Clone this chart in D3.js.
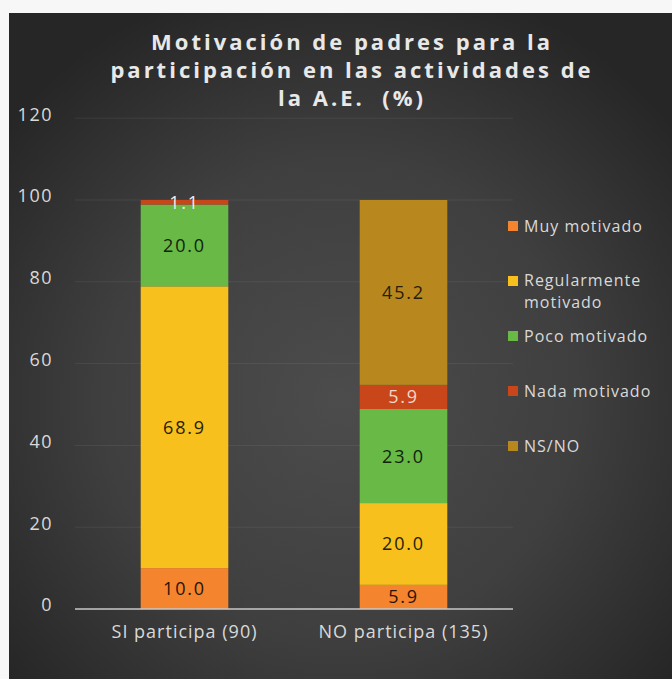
<!DOCTYPE html>
<html>
<head>
<meta charset="utf-8">
<script src="https://cdn.jsdelivr.net/npm/d3@7"></script>
<style>
  body { margin: 0; background: #f7f7f7; }
  svg { display: block; }
</style>
</head>
<body>
<script>
// data (percent)
var categories = ["SI participa (90)", "NO participa (135)"];
var seriesNames = ["Muy motivado", "Regularmente motivado", "Poco motivado", "Nada motivado", "NS/NO"];
var muyMotivado = [10.0, 5.9];
var regularmente = [68.9, 20.0];
var pocoMotivado = [20.0, 23.0];
var nadaMotivado = [1.1, 5.9];
var nsNo = [0, 45.2];
var yTicks = [0, 20, 40, 60, 80, 100, 120];
var titleLines = ["Motivación de padres para la", "participación en las actividades de", "la A.E.  (%)"];

var colors = ["#f5842e", "#f7c01c", "#68b946", "#c9461a", "#b8881f"];
var labelColors = ["#2a1408", "#2a2006", "#10240c", "#f3d7c8", "#2a1c06"];

var W = 672, H = 679;

var svg = d3.select("body").append("svg")
    .attr("width", W)
    .attr("height", H);

// panel background
var defs = svg.append("defs");
var grad = defs.append("radialGradient")
    .attr("id", "bg")
    .attr("cx", "50%").attr("cy", "58%").attr("r", "65%");
grad.append("stop").attr("offset", "0%").attr("stop-color", "#4c4c4c");
grad.append("stop").attr("offset", "55%").attr("stop-color", "#3f3f3f");
grad.append("stop").attr("offset", "100%").attr("stop-color", "#262626");

svg.append("rect")
    .attr("x", 9).attr("y", 13)
    .attr("width", W - 9).attr("height", H - 13)
    .attr("fill", "url(#bg)");

// rows for the stack
var rows = categories.map(function(c, i) {
    var r = {cat: c};
    r[seriesNames[0]] = muyMotivado[i];
    r[seriesNames[1]] = regularmente[i];
    r[seriesNames[2]] = pocoMotivado[i];
    r[seriesNames[3]] = nadaMotivado[i];
    r[seriesNames[4]] = nsNo[i];
    return r;
});

var stacked = d3.stack().keys(seriesNames)(rows);

var x = d3.scaleBand()
    .domain(categories)
    .range([75, 513])
    .paddingInner(0.6)
    .paddingOuter(0.3);

var y = d3.scaleLinear()
    .domain([0, 120])
    .range([609, 118.2]);

// gridlines (very faint)
svg.append("g")
    .selectAll("line")
    .data(yTicks.filter(function(d) { return d > 0; }))
    .enter().append("line")
    .attr("x1", 75).attr("x2", 513)
    .attr("y1", function(d) { return y(d); })
    .attr("y2", function(d) { return y(d); })
    .attr("stroke", "#ffffff")
    .attr("stroke-opacity", 0.07)
    .attr("stroke-width", 1);

// y axis labels
var yAxis = svg.append("g")
    .attr("transform", "translate(75,0)")
    .call(d3.axisLeft(y).tickValues(yTicks).tickSize(0).tickPadding(22));
yAxis.select(".domain").remove();
yAxis.selectAll("text")
    .attr("dy", "0.1em")
    .attr("fill", "#d9d9d9")
    .style("font-family", "'Open Sans', sans-serif")
    .style("font-size", "18px")
    .style("letter-spacing", "1.5px");

// bars
var layer = svg.append("g").selectAll("g")
    .data(stacked)
    .enter().append("g")
    .attr("fill", function(d, i) { return colors[i]; });

layer.selectAll("rect")
    .data(function(d) { return d; })
    .enter().append("rect")
    .attr("x", function(d) { return x(d.data.cat); })
    .attr("y", function(d) { return y(d[1]); })
    .attr("width", x.bandwidth())
    .attr("height", function(d) { return y(d[0]) - y(d[1]); });

// value labels
stacked.forEach(function(s, i) {
    svg.append("g").selectAll("text")
        .data(s.filter(function(d) { return d[1] - d[0] > 0; }))
        .enter().append("text")
        .attr("x", function(d) { return x(d.data.cat) + x.bandwidth() / 2; })
        .attr("y", function(d) { return (y(d[0]) + y(d[1])) / 2; })
        .attr("dy", "0.36em")
        .attr("text-anchor", "middle")
        .attr("fill", function(d) { return d[1] - d[0] < 3 ? "#eeeeee" : labelColors[i]; })
        .style("font-family", "'Open Sans', sans-serif")
        .style("font-size", "18px")
        .style("letter-spacing", "1.8px")
        .text(function(d) { return (d[1] - d[0]).toFixed(1); });
});

// x axis line
svg.append("line")
    .attr("x1", 75).attr("x2", 513)
    .attr("y1", y(0)).attr("y2", y(0))
    .attr("stroke", "#c8c8c8")
    .attr("stroke-width", 1.5);

// x labels
var xAxis = svg.append("g")
    .attr("transform", "translate(0," + y(0) + ")")
    .call(d3.axisBottom(x).tickSize(0).tickPadding(16));
xAxis.select(".domain").remove();
xAxis.selectAll("text")
    .attr("fill", "#d9d9d9")
    .style("font-family", "'Open Sans', sans-serif")
    .style("font-size", "18px")
    .style("letter-spacing", "1px");

// title
svg.append("g").selectAll("text")
    .data(titleLines)
    .enter().append("text")
    .attr("x", 352)
    .attr("y", function(d, i) { return 50 + i * 28; })
    .attr("text-anchor", "middle")
    .attr("fill", "#e8e8e8")
    .style("font-family", "'Open Sans', sans-serif")
    .style("font-weight", "bold")
    .style("font-size", "22px")
    .style("letter-spacing", "3px")
    .style("white-space", "pre")
    .text(function(d) { return d; });

// legend
var legendY = [226, 281, 336, 391, 446];
var legend = svg.append("g").selectAll("g")
    .data(seriesNames)
    .enter().append("g")
    .attr("transform", function(d, i) { return "translate(508," + legendY[i] + ")"; });

legend.append("rect")
    .attr("x", 0).attr("y", -5)
    .attr("width", 10).attr("height", 10)
    .attr("fill", function(d, i) { return colors[i]; });

legend.each(function(d) {
    var parts = d == "Regularmente motivado" ? ["Regularmente", "motivado"] : [d];
    var g = d3.select(this);
    parts.forEach(function(p, j) {
        g.append("text")
            .attr("x", 16)
            .attr("y", j == 0 ? (parts.length > 1 ? -1 : 0) : 21)
            .attr("dy", "0.35em")
            .attr("fill", "#d9d9d9")
            .style("font-family", "'Open Sans', sans-serif")
            .style("font-size", "16px")
            .style("letter-spacing", "1px")
            .text(p);
    });
});
</script>
</body>
</html>
